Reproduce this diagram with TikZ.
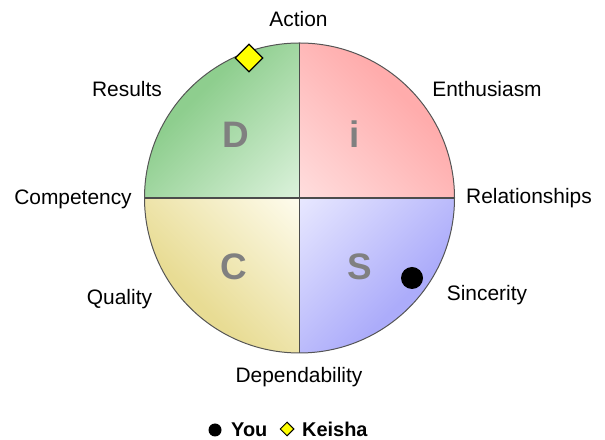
\documentclass[tikz,border=0pt]{standalone}
\usepackage{fontspec}
\setmainfont{Liberation Sans}
\usetikzlibrary{shapes.geometric,calc}
\definecolor{Dlight}{RGB}{220,242,220}
\definecolor{Ddark}{RGB}{142,206,142}
\definecolor{Ilight}{RGB}{255,222,222}
\definecolor{Idark}{RGB}{255,172,172}
\definecolor{Slight}{RGB}{232,232,255}
\definecolor{Sdark}{RGB}{172,172,250}
\definecolor{Clight}{RGB}{254,252,238}
\definecolor{Cdark}{RGB}{232,220,148}
\definecolor{letgray}{RGB}{128,128,128}
\definecolor{rim}{RGB}{85,85,85}
\definecolor{keiyellow}{RGB}{255,255,0}
\tikzset{
  lbl/.style={anchor=base, inner sep=0pt, font=\fontsize{21}{24}\selectfont, text=black},
  letter/.style={anchor=base, inner sep=0pt, font=\bfseries\fontsize{37}{40}\selectfont, text=letgray},
  legtext/.style={anchor=base west, inner sep=0pt, font=\bfseries\fontsize{20}{22}\selectfont, text=black},
  youdot/.style={circle, fill=black, inner sep=0pt},
  keidia/.style={diamond, fill=keiyellow, draw=black, line width=1.3pt, inner sep=0pt, aspect=1},
  rimline/.style={draw=rim, line width=1pt},
  divline/.style={draw=rim!90!black, line width=1.3pt}
}
\begin{document}
\begin{tikzpicture}[x=1bp,y=1bp]
\useasboundingbox (0,0) rectangle (605,440);
\coordinate (c) at (299.5,242);
\coordinate (W) at (144.5,242);
\coordinate (E) at (454.5,242);
\coordinate (N) at (299.5,397);
\coordinate (S) at (299.5,87);
% shaded quadrants
\begin{scope}
  \clip (c) circle (155);
  % D (upper left)
  \begin{scope}
    \clip (c) rectangle ++(-160,160);
    \fill[Ddark] (c) rectangle ++(-160,160);
    \begin{scope}[transform canvas={rotate around={135:(c)}}]
      \shade[left color=Dlight, right color=Ddark] ($(c)+(0,-230)$) rectangle ($(c)+(145,230)$);
    \end{scope}
  \end{scope}
  % i (upper right)
  \begin{scope}
    \clip (c) rectangle ++(160,160);
    \fill[Idark] (c) rectangle ++(160,160);
    \begin{scope}[transform canvas={rotate around={45:(c)}}]
      \shade[left color=Ilight, right color=Idark] ($(c)+(0,-230)$) rectangle ($(c)+(145,230)$);
    \end{scope}
  \end{scope}
  % S (lower right)
  \begin{scope}
    \clip (c) rectangle ++(160,-160);
    \fill[Sdark] (c) rectangle ++(160,-160);
    \begin{scope}[transform canvas={rotate around={-45:(c)}}]
      \shade[left color=Slight, right color=Sdark] ($(c)+(0,-230)$) rectangle ($(c)+(145,230)$);
    \end{scope}
  \end{scope}
  % C (lower left)
  \begin{scope}
    \clip (c) rectangle ++(-160,-160);
    \fill[Cdark] (c) rectangle ++(-160,-160);
    \begin{scope}[transform canvas={rotate around={-135:(c)}}]
      \shade[left color=Clight, right color=Cdark] ($(c)+(0,-230)$) rectangle ($(c)+(145,230)$);
    \end{scope}
  \end{scope}
\end{scope}
\draw[divline] (W) -- (E);
\draw[divline] (N) -- (S);
\draw[rimline] (c) circle (155);
% quadrant letters
\node[letter] (lD) at (235.5,292) {D};
\node[letter] (lI) at (355,292) {i};
\node[letter] (lC) at (234,160) {C};
\node[letter] (lS) at (359.5,160) {S};
% labels
\node[lbl] (action) at (298.5,413) {Action};
\node[lbl] (results) at (127,343) {Results};
\node[lbl] (enth) at (487,343) {Enthusiasm};
\node[lbl] (comp) at (73,235) {Competency};
\node[lbl] (rel) at (529,236) {Relationships};
\node[lbl] (qual) at (119.5,135) {Quality};
\node[lbl] (sinc) at (487,139) {Sincerity};
\node[lbl] (dep) at (299,57) {Dependability};
% markers
\node[keidia, minimum size=28bp] (keisha) at (249,382) {};
\node[youdot, minimum size=22bp] (you) at (412,162) {};
% legend
\node[youdot, minimum size=13bp] (legyou) at (215,10) {};
\node[legtext] (legyoutxt) at (231,3) {You};
\node[keidia, minimum size=14bp, line width=1pt] (legkei) at (287,11) {};
\node[legtext] (legkeitxt) at (302,3) {Keisha};
\end{tikzpicture}
\end{document}
